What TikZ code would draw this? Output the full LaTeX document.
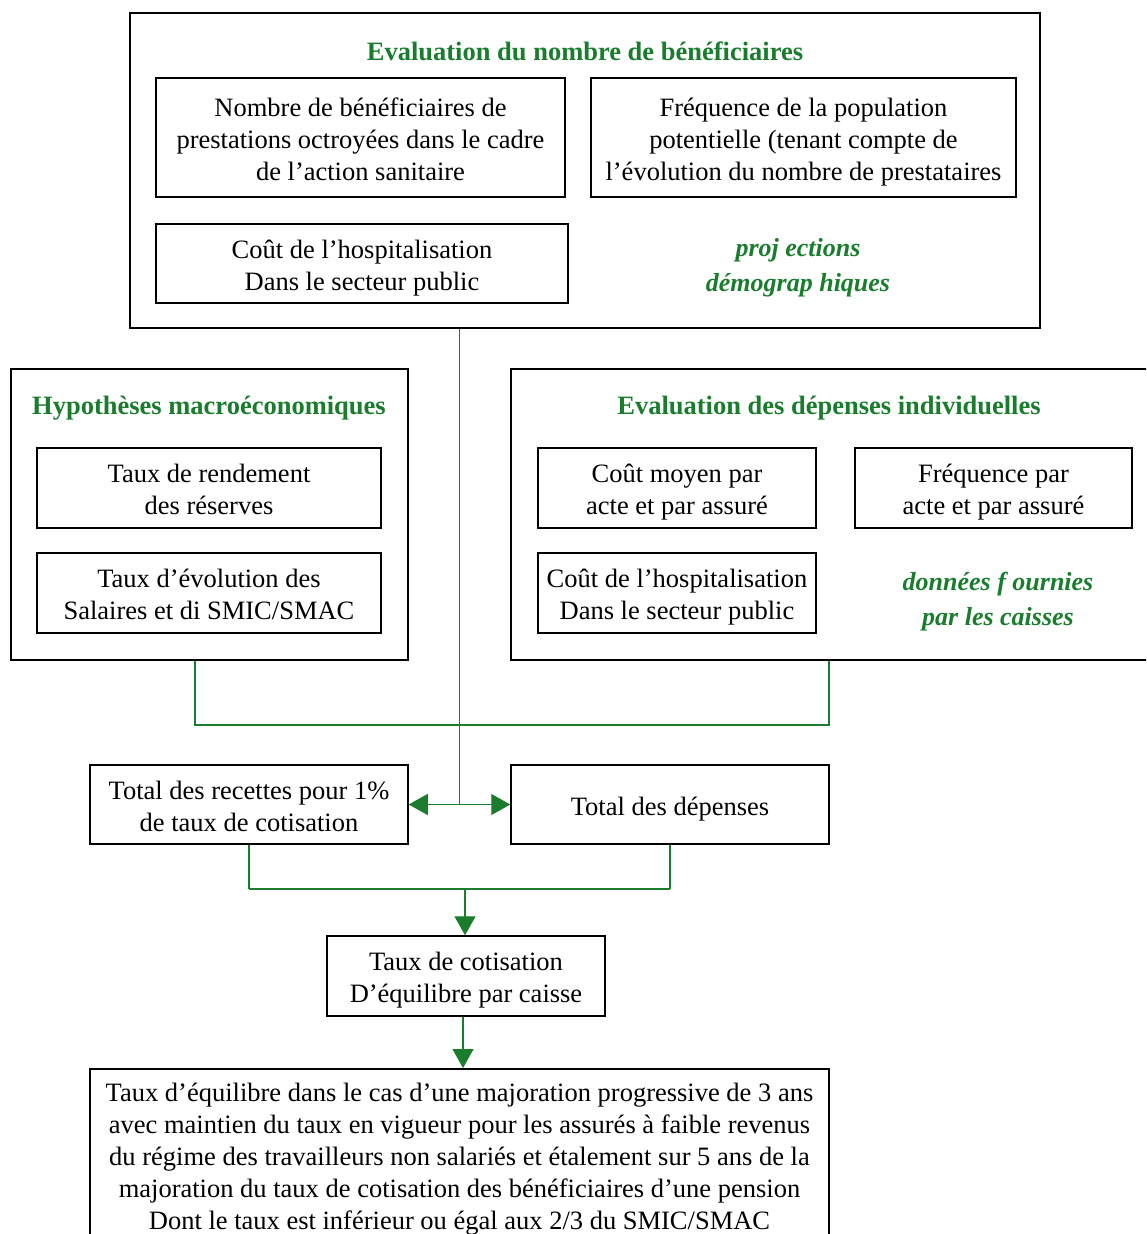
\documentclass[tikz,border=0pt]{standalone}
\usepackage{fontspec}
\setmainfont{Liberation Serif}
\usetikzlibrary{arrows.meta}

\definecolor{vert}{RGB}{25,125,45}

\begin{document}
\begin{tikzpicture}[x=1pt,y=-1pt,
		box/.style={draw,line width=1.5pt,align=flush center,inner sep=0pt,font=\fontsize{26.5}{32}\selectfont,
			execute at begin node=\rule{0pt}{27pt},execute at end node=\rule[-6pt]{0pt}{6pt}},
		frame/.style={draw,line width=1.3pt,inner sep=0pt},
		titre/.style={text=vert,font=\fontsize{26.5}{32}\selectfont\bfseries},
		note/.style={text=vert,align=center,font=\fontsize{26}{35}\selectfont\bfseries\itshape},
		link/.style={draw=vert,line width=1.2pt},
		arr/.style={-{Triangle[length=19pt,width=21pt]}}]
		\useasboundingbox (0,0) rectangle (1146,1234);
		\clip (0,0) rectangle (1146,1234);
		
		% evaluation du nombre de beneficiaires
		\node[frame,minimum width=910pt,minimum height=315pt] at (585,170.5) (evalben) {};
		\node[titre] at (585,51) (titreben) {Evaluation du nombre de bénéficiaires};
		\node[box,text width=409pt,minimum height=119pt] at (360.5,137.5) (nbben) {Nombre de bénéficiaires de\\prestations octroyées dans le cadre\\de l’action sanitaire};
		\node[box,text width=425pt,minimum height=119pt] at (803.5,137.5) (freqpop) {Fréquence de la population\\potentielle (tenant compte de\\l’évolution du nombre de prestataires};
		\node[box,text width=412pt,minimum height=79pt] at (362,263.5) (couthospA) {Coût de l’hospitalisation\\Dans le secteur public};
		\node[note] at (798,268) (projdemo) {proj ections\\démograp hiques};
		
		% hypotheses macroeconomiques
		\node[frame,minimum width=397pt,minimum height=291pt] at (209.5,514.5) (hypo) {};
		\node[titre] at (209,408) (titrehypo) {Hypothèses macroéconomiques};
		\node[box,text width=344pt,minimum height=80pt] at (209,488) (rendement) {Taux de rendement\\des réserves};
		\node[box,text width=344pt,minimum height=80pt] at (209,593) (salaires) {Taux d’évolution des\\Salaires et di SMIC/SMAC};
		
		% evaluation des depenses individuelles
		\node[frame,minimum width=645pt,minimum height=291pt] at (833.5,514.5) (depind) {};
		\node[titre] at (829,408) (titredep) {Evaluation des dépenses individuelles};
		\node[box,text width=278pt,minimum height=80pt] at (677,488) (coutmoyen) {Coût moyen par\\acte et par assuré};
		\node[box,text width=277pt,minimum height=80pt] at (993.5,488) (freqacte) {Fréquence par\\acte et par assuré};
		\node[box,text width=278pt,minimum height=80pt] at (677,593) (couthospB) {Coût de l’hospitalisation\\Dans le secteur public};
		\node[note] at (998,602) (donnees) {données f ournies\\par les caisses};
		
		% totaux
		\node[box,text width=318pt,minimum height=79pt] at (249,804.5) (recettes) {Total des recettes pour 1\%\\de taux de cotisation};
		\node[box,text width=318pt,minimum height=79pt] at (670,804.5) (depenses) {Total des dépenses};
		\node[box,text width=278pt,minimum height=80pt] at (466,976) (cotis) {Taux de cotisation\\D’équilibre par caisse};
		\node[box,anchor=north,text width=739pt,inner ysep=6pt] at (459.5,1068) (final) {Taux d’équilibre dans le cas d’une majoration progressive de 3 ans\\avec maintien du taux en vigueur pour les assurés à faible revenus\\du régime des travailleurs non salariés et étalement sur 5 ans de la\\majoration du taux de cotisation des bénéficiaires d’une pension\\Dont le taux est inférieur ou égal aux 2/3 du SMIC/SMAC\\[12pt]};
		
		% liaisons
		\coordinate (fork) at (459.5,804.5);
		\coordinate (jA) at (195,725);
		\coordinate (jB) at (829,725);
		\coordinate (jC) at (465,889);
		
		\draw[link] (evalben.south -| fork) -- (fork);
		\draw[link,arr] (fork) -- (recettes.east);
		\draw[link,arr] (fork) -- (depenses.west);
		\draw[link] (hypo.south -| jA) -- (jA) -- (jB) -- (depind.south -| jB);
		
		\draw[link] (recettes.south) -- (recettes.south |- jC);
		\draw[link] (depenses.south) -- (depenses.south |- jC);
		\draw[link,line width=2.5pt] (recettes.south |- jC) -- (depenses.south |- jC);
		\draw[link,arr] (jC) -- (cotis.north -| jC);
		\draw[link,arr] (cotis.south -| 463,0) -- (final.north -| 463,0);
	\end{tikzpicture}
\end{document}
